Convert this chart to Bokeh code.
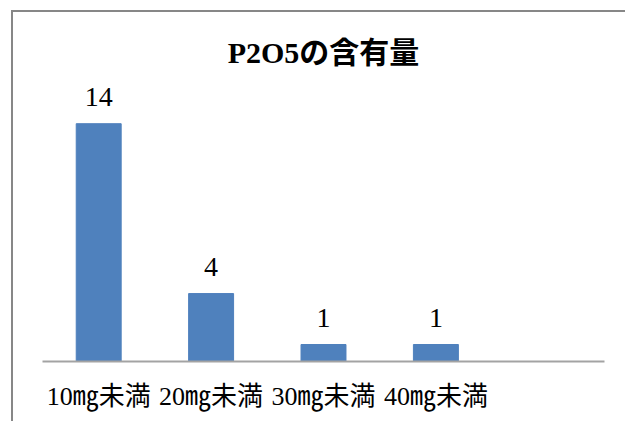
from bokeh.plotting import figure
from bokeh.models import FactorRange, Range1d, ColumnDataSource
from bokeh.core.properties import value
from bokeh.embed import file_html
from bokeh.resources import INLINE

# Chart data
title_text = "P2O5の含有量"
categories = ["10㎎未満", "20㎎未満", "30㎎未満", "40㎎未満", " "]
bar_categories = ["10㎎未満", "20㎎未満", "30㎎未満", "40㎎未満"]
counts = [14, 4, 1, 1]

SERIF = "'Liberation Serif', 'Noto Sans CJK JP', serif"
BAR_COLOR = "#4F81BD"

source = ColumnDataSource(data=dict(
    cat=bar_categories,
    count=counts,
    label=[str(c) for c in counts],
))

p = figure(
    x_range=FactorRange(*categories, range_padding=0),
    y_range=Range1d(0, 17.25),
    width=614, height=411,
    output_backend="svg", toolbar_location=None,
    min_border_left=29, min_border_right=23,
    min_border_top=56, min_border_bottom=62,
    margin=(10, 0, 0, 11),
    styles={"border-left": "2px solid #878787", "border-top": "2px solid #878787"},
    title=title_text,
)

p.vbar(x="cat", top="count", width=0.4, source=source,
       fill_color=BAR_COLOR, line_color=BAR_COLOR)

p.text(x="cat", y="count", text="label", source=source,
       text_align="center", text_baseline="middle", y_offset=-27,
       text_font=value(SERIF), text_font_size="28px", text_color="black")

p.title.text_font = SERIF
p.title.text_font_size = "30px"
p.title.text_font_style = "bold"
p.title.align = "center"
p.title.text_color = "black"
p.title.standoff = 0

p.yaxis.visible = False
p.xgrid.grid_line_color = None
p.ygrid.grid_line_color = None
p.outline_line_color = None

ax = p.xaxis[0]
ax.axis_line_color = "#a3a3a3"
ax.axis_line_width = 2
ax.major_tick_line_color = None
ax.minor_tick_line_color = None
ax.major_label_text_font = SERIF
ax.major_label_text_font_size = "26px"
ax.major_label_text_color = "black"
ax.major_label_standoff = 14

p.background_fill_color = "white"
p.border_fill_color = "white"

open("out.html", "w").write(file_html(p, INLINE))
